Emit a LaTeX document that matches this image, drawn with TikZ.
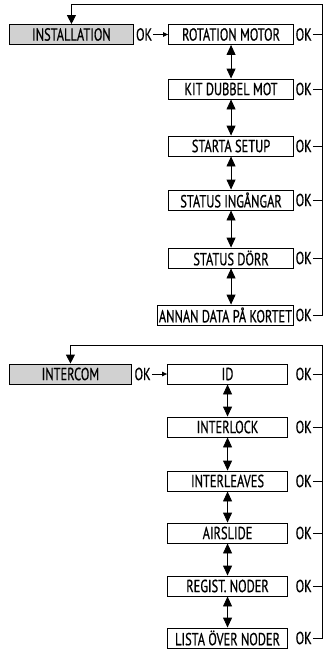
\documentclass[tikz,border=0pt]{standalone}
\usepackage{fontspec}
\setmainfont{PT Sans}[FakeStretch=0.71, FakeBold=0.6]
\usetikzlibrary{arrows.meta}
\tikzset{
  lbl/.style={font=\fontsize{17.5}{17.5}\selectfont},
  box/.style={draw, lbl, line width=0.9pt, minimum height=20pt, inner sep=1.5pt},
  menu/.style={box, fill=black!18, anchor=west},
  sub/.style={box, fill=white, anchor=east},
  ok/.style={lbl, inner sep=1pt, anchor=west},
  con/.style={line width=0.9pt},
  dbl/.style={con, {Triangle[length=10pt,width=9pt]}-{Triangle[length=10pt,width=9pt]}},
  arr/.style={con, -{Triangle[length=9pt,width=9pt]}},
  sarr/.style={con, -{Triangle[length=5pt,width=4.5pt]}}
}
\begin{document}
\begin{tikzpicture}[x=1pt,y=-1pt]
\useasboundingbox (0,0) rectangle (328,649);
% ---------- INSTALLATION block ----------
\node[menu, minimum width=124pt] (inst) at (9,34.5) {INSTALLATION};
\node[ok] (ok0) at ([xshift=1pt]inst.east) {OK};
\node[sub, minimum width=125pt] (a1) at (294,34.5) {ROTATION MOTOR};
\node[sub, minimum width=125pt] (a2) at (294,89) {KIT DUBBEL MOT};
\node[sub, minimum width=125pt] (a3) at (294,146) {STARTA SETUP};
\node[sub, minimum width=125pt] (a4) at (294,200) {STATUS INGÅNGAR};
\node[sub, minimum width=125pt] (a5) at (294,258) {STATUS DÖRR};
\node[sub, minimum width=125pt] (a6) at (294,315) {ANNAN DATA PÅ KORTET};
\foreach \i in {1,...,6} {\node[ok] (oka\i) at ([xshift=0.5pt]a\i.east) {OK};}
\coordinate (r1) at (322,4);
\draw[sarr] (ok0) -- (a1);
\foreach \i/\j in {1/2,2/3,3/4,4/5,5/6} {\draw[dbl] (a\i.south) -- (a\j.north -| a\i.south);}
\foreach \i in {1,...,5} {\draw[con] (oka\i.east) -- (oka\i.east -| r1);}
\draw[arr] (oka6.east) -| (r1) -| (inst.north);
% ---------- INTERCOM block ----------
\node[menu, minimum width=122pt] (icom) at (9,374) {INTERCOM};
\node[ok] (ok1) at ([xshift=1.5pt]icom.east) {OK};
\node[sub, minimum width=120pt] (b1) at (288,374) {ID};
\node[sub, minimum width=120pt] (b2) at (288,427) {INTERLOCK};
\node[sub, minimum width=120pt] (b3) at (288,481) {INTERLEAVES};
\node[sub, minimum width=120pt] (b4) at (288,533) {AIRSLIDE};
\node[sub, minimum width=120pt] (b5) at (288,586) {REGIST. NODER};
\node[sub, minimum width=120pt] (b6) at (288,638) {LISTA ÖVER NODER};
\foreach \i in {1,...,6} {\node[ok] (okb\i) at ([xshift=6.5pt]b\i.east) {OK};}
\coordinate (r2) at (322,345);
\draw[sarr] (ok1) -- (b1);
\foreach \i/\j in {1/2,2/3,3/4,4/5,5/6} {\draw[dbl] (b\i.south) -- (b\j.north -| b\i.south);}
\foreach \i in {1,...,5} {\draw[con] (okb\i.east) -- (okb\i.east -| r2);}
\draw[arr] (okb6.east) -| (r2) -| (icom.north);
\end{tikzpicture}
\end{document}
